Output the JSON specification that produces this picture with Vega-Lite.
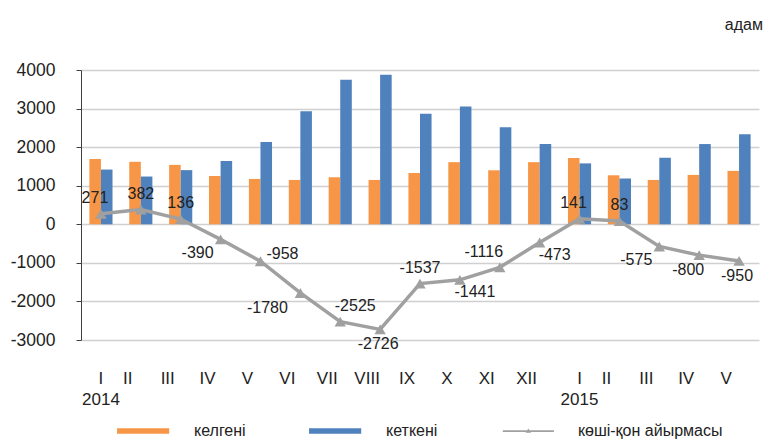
{
  "$schema": "https://vega.github.io/schema/vega-lite/v6.json",
  "width": 678,
  "height": 270,
  "autosize": {"type": "none"},
  "padding": {"left": 81, "top": 70, "right": 5, "bottom": 99},
  "background": "white",
  "title": {"text": "адам", "anchor": "end", "offset": 28, "fontSize": 16, "fontWeight": "normal", "font": "Liberation Sans", "color": "#222222", "dx": 4},
  "config": {
    "view": {"stroke": null},
    "font": "Liberation Sans",
    "axis": {"labelFont": "Liberation Sans"},
    "legend": {"labelFont": "Liberation Sans"}
  },
  "data": {
    "values": [
      {"month": "2014-I", "kelgeni": 1690, "ketkeni": 1419, "net": 271},
      {"month": "2014-II", "kelgeni": 1620, "ketkeni": 1238, "net": 382},
      {"month": "2014-III", "kelgeni": 1540, "ketkeni": 1404, "net": 136},
      {"month": "2014-IV", "kelgeni": 1252, "ketkeni": 1642, "net": -390},
      {"month": "2014-V", "kelgeni": 1175, "ketkeni": 2133, "net": -958},
      {"month": "2014-VI", "kelgeni": 1150, "ketkeni": 2930, "net": -1780},
      {"month": "2014-VII", "kelgeni": 1220, "ketkeni": 3745, "net": -2525},
      {"month": "2014-VIII", "kelgeni": 1150, "ketkeni": 3876, "net": -2726},
      {"month": "2014-IX", "kelgeni": 1330, "ketkeni": 2867, "net": -1537},
      {"month": "2014-X", "kelgeni": 1610, "ketkeni": 3051, "net": -1441},
      {"month": "2014-XI", "kelgeni": 1400, "ketkeni": 2516, "net": -1116},
      {"month": "2014-XII", "kelgeni": 1610, "ketkeni": 2083, "net": -473},
      {"month": "2015-I", "kelgeni": 1720, "ketkeni": 1579, "net": 141},
      {"month": "2015-II", "kelgeni": 1270, "ketkeni": 1187, "net": 83},
      {"month": "2015-III", "kelgeni": 1150, "ketkeni": 1725, "net": -575},
      {"month": "2015-IV", "kelgeni": 1280, "ketkeni": 2080, "net": -800},
      {"month": "2015-V", "kelgeni": 1385, "ketkeni": 2335, "net": -950}
    ]
  },
  "encoding": {
    "x": {
      "field": "month", "type": "nominal", "sort": null,
      "scale": {"type": "band", "paddingInner": 0.42, "paddingOuter": 0.21},
      "axis": {
        "title": null, "ticks": false, "domain": false, "grid": false, "labelAngle": 0,
        "labelFontSize": 17, "labelColor": "#222222", "labelPadding": 38, "labelLineHeight": 21,
        "labelBaseline": "middle",
        "labelExpr": "datum.value == '2014-I' ? ['I', '2014'] : datum.value == '2015-I' ? ['I', '2015'] : split(datum.value, '-')[1]",
        "labelOffset": {"condition": {"test": "datum.value == '2014-I' || datum.value == '2015-I'", "value": 0}, "value": -13}
      }
    }
  },
  "layer": [
    {
      "transform": [
        {"fold": ["kelgeni", "ketkeni"], "as": ["key", "value"]},
        {"calculate": "datum.key == 'kelgeni' ? 'келгені' : 'кеткені'", "as": "series"}
      ],
      "mark": {"type": "bar"},
      "encoding": {
        "xOffset": {"field": "series", "type": "nominal", "scale": {"domain": ["келгені", "кеткені"], "paddingInner": 0, "paddingOuter": 0}},
        "y": {
          "field": "value", "type": "quantitative",
          "scale": {"domain": [-3000, 4000], "nice": false, "zero": false},
          "axis": {
            "title": null, "tickCount": 7, "labelOverlap": false, "labelBound": false, "grid": true,
            "gridColor": "#d0d0d0", "gridWidth": 1.5,
            "labelFontSize": 17.5, "labelColor": "#222222", "labelPadding": 21, "tickSize": 5,
            "tickColor": "#404040", "domainColor": "#404040",
            "labelExpr": "'' + datum.value"
          }
        },
        "color": {
          "field": "series", "type": "nominal",
          "scale": {"domain": ["келгені", "кеткені", "көші-қон айырмасы"], "range": ["#f79646", "#4f81bd", "#a0a0a0"]},
          "legend": {
            "orient": "none", "legendX": 35, "legendY": 326, "direction": "horizontal", "columns": 3,
            "title": null, "symbolSize": 4900, "labelFontSize": 16, "labelColor": "#222222",
            "columnPadding": 62, "labelOffset": 8,
            "encode": {
              "symbols": {
                "update": {
                  "shape": {"signal": "datum.value === 'көші-қон айырмасы' ? 'M-0.92,-0.025H0.54V0.025H-0.92Z M-0.27,0.05L-0.19,-0.07L-0.11,0.05Z' : 'M-0.97,-0.08H0.52V0.08H-0.97Z'"},
                  "fill": {"signal": "scale('color', datum.value)"},
                  "stroke": {"value": "transparent"},
                  "strokeWidth": {"value": 0},
                  "opacity": {"value": 1},
                  "fillOpacity": {"value": 1}
                }
              }
            }
          }
        }
      }
    },
    {
      "mark": {"type": "line", "strokeWidth": 3.5},
      "encoding": {
        "y": {"field": "net", "type": "quantitative", "axis": {
            "title": null, "tickCount": 7, "labelOverlap": false, "labelBound": false, "grid": true,
            "gridColor": "#d0d0d0", "gridWidth": 1.5,
            "labelFontSize": 17.5, "labelColor": "#222222", "labelPadding": 21, "tickSize": 5,
            "tickColor": "#404040", "domainColor": "#404040",
            "labelExpr": "'' + datum.value"
          }},
        "color": {"datum": "көші-қон айырмасы"}
      }
    },
    {
      "mark": {"type": "point", "shape": "triangle-up", "filled": true, "size": 130, "opacity": 1},
      "encoding": {
        "y": {"field": "net", "type": "quantitative"},
        "color": {"datum": "көші-қон айырмасы"}
      }
    },
    {
      "transform": [{"filter": {"field": "month", "oneOf": ["2014-II", "2014-III", "2014-IX", "2015-II"]}}],
      "mark": {"type": "text", "fontSize": 16, "color": "#222222", "dy": -16},
      "encoding": {"y": {"field": "net", "type": "quantitative"}, "text": {"field": "net", "type": "nominal"}}
    },
    {
      "transform": [{"filter": {"field": "month", "oneOf": ["2014-I", "2015-I"]}}],
      "mark": {"type": "text", "fontSize": 16, "color": "#222222", "dy": -16, "dx": -6},
      "encoding": {"y": {"field": "net", "type": "quantitative"}, "text": {"field": "net", "type": "nominal"}}
    },
    {
      "transform": [{"filter": {"field": "month", "oneOf": ["2014-VII"]}}],
      "mark": {"type": "text", "fontSize": 16, "color": "#222222", "dy": -16, "dx": 15},
      "encoding": {"y": {"field": "net", "type": "quantitative"}, "text": {"field": "net", "type": "nominal"}}
    },
    {
      "transform": [{"filter": {"field": "month", "oneOf": ["2014-V"]}}],
      "mark": {"type": "text", "fontSize": 16, "color": "#222222", "dy": -7, "dx": 22},
      "encoding": {"y": {"field": "net", "type": "quantitative"}, "text": {"field": "net", "type": "nominal"}}
    },
    {
      "transform": [{"filter": {"field": "month", "oneOf": ["2014-XI"]}}],
      "mark": {"type": "text", "fontSize": 16, "color": "#222222", "dy": -15, "dx": -16},
      "encoding": {"y": {"field": "net", "type": "quantitative"}, "text": {"field": "net", "type": "nominal"}}
    },
    {
      "transform": [{"filter": {"field": "month", "oneOf": ["2014-IV", "2015-III"]}}],
      "mark": {"type": "text", "fontSize": 16, "color": "#222222", "dy": 14, "dx": -23},
      "encoding": {"y": {"field": "net", "type": "quantitative"}, "text": {"field": "net", "type": "nominal"}}
    },
    {
      "transform": [{"filter": {"field": "month", "oneOf": ["2014-VI"]}}],
      "mark": {"type": "text", "fontSize": 16, "color": "#222222", "dy": 15, "dx": -33},
      "encoding": {"y": {"field": "net", "type": "quantitative"}, "text": {"field": "net", "type": "nominal"}}
    },
    {
      "transform": [{"filter": {"field": "month", "oneOf": ["2014-VIII", "2015-V"]}}],
      "mark": {"type": "text", "fontSize": 16, "color": "#222222", "dy": 15, "dx": -2},
      "encoding": {"y": {"field": "net", "type": "quantitative"}, "text": {"field": "net", "type": "nominal"}}
    },
    {
      "transform": [{"filter": {"field": "month", "oneOf": ["2015-IV"]}}],
      "mark": {"type": "text", "fontSize": 16, "color": "#222222", "dy": 15, "dx": -11},
      "encoding": {"y": {"field": "net", "type": "quantitative"}, "text": {"field": "net", "type": "nominal"}}
    },
    {
      "transform": [{"filter": {"field": "month", "oneOf": ["2014-X", "2014-XII"]}}],
      "mark": {"type": "text", "fontSize": 16, "color": "#222222", "dy": 12, "dx": 15},
      "encoding": {"y": {"field": "net", "type": "quantitative"}, "text": {"field": "net", "type": "nominal"}}
    }
  ]
}
